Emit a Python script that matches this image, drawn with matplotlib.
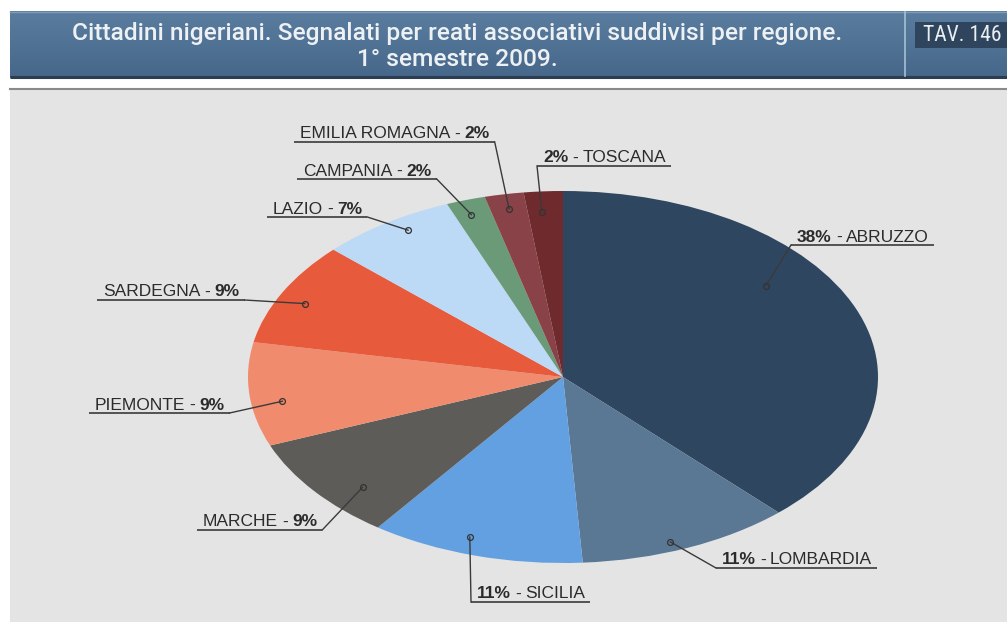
import matplotlib
matplotlib.use("Agg")
import matplotlib.pyplot as plt
import numpy as np
from matplotlib import font_manager
from matplotlib.colors import to_rgb

# ---- data -------------------------------------------------------------
regions = ["ABRUZZO", "LOMBARDIA", "SICILIA", "MARCHE", "PIEMONTE",
           "SARDEGNA", "LAZIO", "CAMPANIA", "EMILIA ROMAGNA", "TOSCANA"]
shares = [38, 11, 11, 9, 9, 9, 7, 2, 2, 2]
slice_colors = ["#2f4660", "#5a7893", "#62a0e2", "#5d5c58", "#f08b6e",
                "#e85a3c", "#bcd9f5", "#6b9a79", "#8a4249", "#6e2a2c"]

title_lines = ["Cittadini nigeriani. Segnalati per reati associativi suddivisi per regione.",
               "1° semestre 2009."]
table_tag = "TAV. 146"

# ---- label layout (pixel positions of callouts) ------------------------
# x: left of text, uy: underline y, pct_first: "P% - NAME" style (leader at left end)
# t: position inside the wedge (0..1 of its sweep), r: radial fraction of the anchor dot
callouts = {
    "ABRUZZO":        dict(x=797, uy=245, pct_first=True,  t=0.385, r=0.81),
    "LOMBARDIA":      dict(x=722, uy=568, pct_first=True,  t=0.56,  r=0.95),
    "SICILIA":        dict(x=477, uy=602, pct_first=True,  t=0.57,  r=0.91),
    "MARCHE":         dict(x=203, uy=530, pct_first=False, t=0.34,  r=0.87),
    "PIEMONTE":       dict(x=95,  uy=413, pct_first=False, t=0.41,  r=0.90),
    "SARDEGNA":       dict(x=103, uy=300, pct_first=False, t=0.46,  r=0.91),
    "LAZIO":          dict(x=273, uy=217, pct_first=False, t=0.59,  r=0.93),
    "CAMPANIA":       dict(x=303, uy=179, pct_first=False, t=0.44,  r=0.92),
    "EMILIA ROMAGNA": dict(x=300, uy=142, pct_first=False, t=0.51,  r=0.92),
    "TOSCANA":        dict(x=543, uy=166, pct_first=True,  t=0.40,  r=0.89),
}

W, H = 1007, 627
fig = plt.figure(figsize=(W / 100, H / 100), dpi=100)
fig.patch.set_facecolor("white")
renderer = fig.canvas.get_renderer()

installed = {f.name for f in font_manager.fontManager.ttflist}
label_font = "Liberation Sans" if "Liberation Sans" in installed else "DejaVu Sans"
title_font = "Roboto" if "Roboto" in installed else label_font
narrow_font = label_font
for cand in ["Roboto Condensed", "Archivo Narrow", "PT Sans Narrow",
             "Liberation Sans Narrow", "Arial Narrow", "IBM Plex Sans Condensed",
             "Fira Sans Condensed", "Encode Sans Condensed", "Sofia Sans Semi Condensed",
             "Asap Condensed"]:
    if cand in installed:
        narrow_font = cand
        break


def fit_text(ax, x, y, s, width_px, size0=15, **kw):
    """Place text and rescale its font size so that it spans width_px pixels."""
    t = ax.text(x, y, s, fontsize=size0, **kw)
    w = t.get_window_extent(renderer).width
    t.set_fontsize(size0 * width_px / w)
    return t


# ---- background canvas in pixel units ---------------------------------
bg = fig.add_axes([0, 0, 1, 1], zorder=0)
bg.set_xlim(0, W)
bg.set_ylim(H, 0)
bg.axis("off")

# header bar with vertical gradient
top_c = np.array(to_rgb("#5a7d9f"))
bot_c = np.array(to_rgb("#46678a"))
g = np.linspace(0, 1, 64)[:, None, None]
grad = np.repeat(top_c * (1 - g) + bot_c * g, 4, axis=1)
bg.imshow(grad, extent=(10, W, 78, 11), origin="upper", aspect="auto", zorder=1)
bg.plot([10, W], [77, 77], color="#2c3d50", lw=2.2, zorder=2, solid_capstyle="butt")
bg.plot([10, W], [11.5, 11.5], color="#7f9bb6", lw=1, zorder=2)
bg.plot([905, 905], [12, 76], color="#a9bfd3", lw=1.2, zorder=2)

# tag box
bg.add_patch(plt.Rectangle((915, 22), W - 915, 26, facecolor="#2f455e",
                           edgecolor="none", zorder=3))
fit_text(bg, 923, 35.5, table_tag, 79, color="#e9eef2", family=narrow_font,
         ha="left", va="center", zorder=4)

# title, centred over the header area left of the divider
t1 = fit_text(bg, 457, 40, title_lines[0], 772, color="#eef1f4", family=title_font,
              fontweight="medium", ha="center", va="baseline", zorder=4)
bg.text(457, 66, title_lines[1], color="#eef1f4", fontsize=t1.get_fontsize(),
        family=title_font, fontweight="medium", ha="center", va="baseline", zorder=4)

# grey plotting area
bg.plot([10, W], [89, 89], color="#8a8a8a", lw=1.5, zorder=2)
bg.add_patch(plt.Rectangle((10, 90), W - 10, 532, facecolor="#e3e4e3",
                           edgecolor="none", zorder=1))

# ---- pie (stretched into an ellipse) -----------------------------------
cx, cy, rx, ry = 563, 377, 315, 186
pie_ax = fig.add_axes([(cx - rx) / W, (H - (cy + ry)) / H, 2 * rx / W, 2 * ry / H],
                      zorder=1)
pie_ax.pie(shares, colors=slice_colors, startangle=90, counterclock=False,
           radius=1, wedgeprops=dict(linewidth=0))
pie_ax.set_xlim(-1, 1)
pie_ax.set_ylim(-1, 1)
pie_ax.set_aspect("auto")
pie_ax.axis("off")

# ---- callouts ----------------------------------------------------------
ov = fig.add_axes([0, 0, 1, 1], zorder=2)
ov.set_xlim(0, W)
ov.set_ylim(H, 0)
ov.axis("off")
ov.patch.set_alpha(0)

fs = 12.5
gap_px = 0.24 * fs * 100 / 72
line_c = "#3a3a3a"

starts = np.concatenate([[0], np.cumsum(shares)[:-1]]) * 3.6
for name, share, start in zip(regions, shares, starts):
    c = callouts[name]
    ang = np.deg2rad(start + c["t"] * share * 3.6)
    disp = pie_ax.transData.transform((c["r"] * np.sin(ang), c["r"] * np.cos(ang)))
    ax_, ay_ = disp[0], H - disp[1]

    base = c["uy"] - 3.5
    pct = f"{share}%"
    if c["pct_first"]:
        parts = [(pct, "bold"), ("-", "normal"), (name, "normal")]
    else:
        parts = [(name, "normal"), ("-", "normal"), (pct, "bold")]
    xc = c["x"]
    x_left = x_right = None
    for s, w in parts:
        t = ov.text(xc, base, s, fontsize=fs, family=label_font, fontweight=w,
                    color="#2b2b2b", ha="left", va="baseline")
        bb = t.get_window_extent(renderer)
        if x_left is None:
            x_left = bb.x0
        x_right = bb.x1
        xc = bb.x1 + gap_px

    u0, u1 = x_left - 6, x_right + 5
    ov.plot([u0, u1], [c["uy"], c["uy"]], color=line_c, lw=1.2,
            solid_capstyle="butt")
    end = (u0, c["uy"]) if c["pct_first"] else (u1, c["uy"])
    ov.plot([end[0], ax_], [end[1], ay_], color=line_c, lw=1.0)
    ov.plot([ax_], [ay_], marker="o", ms=4.2, mfc="none", mec="#333333", mew=0.9)

fig.savefig("out.png", dpi=100)
